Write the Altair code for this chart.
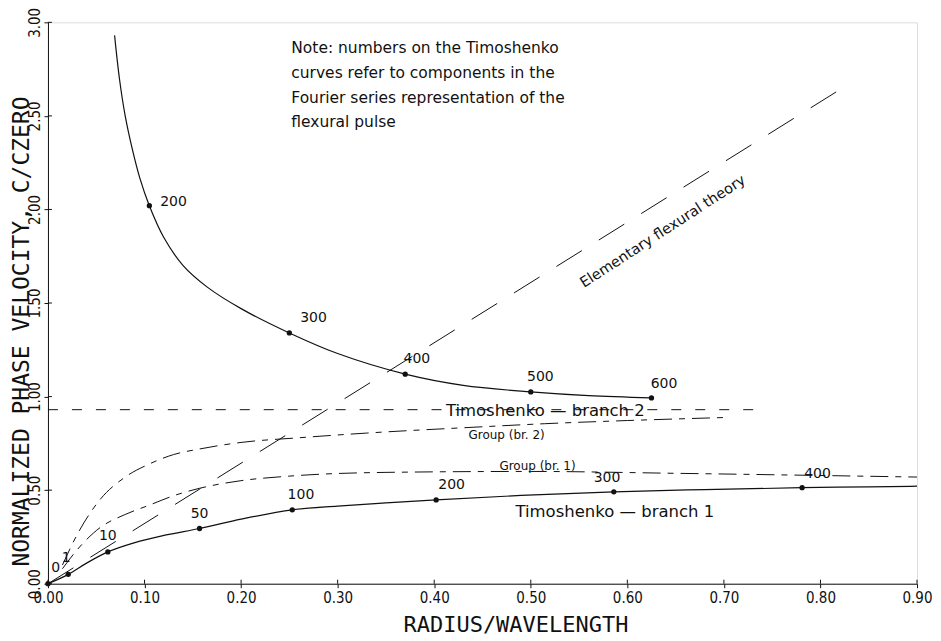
import altair as alt
import pandas as pd

# ---------------- data ----------------
x_ticks = [0.0, 0.1, 0.2, 0.3, 0.4, 0.5, 0.6, 0.7, 0.8, 0.9]
y_ticks = [0.0, 0.5, 1.0, 1.5, 2.0, 2.5, 3.0]

# Timoshenko branch 2 (solid)
b2_x = [0.069, 0.074, 0.080, 0.087, 0.095, 0.105, 0.120, 0.140, 0.165, 0.200,
        0.250, 0.300, 0.370, 0.430, 0.500, 0.560, 0.625]
b2_y = [2.93, 2.70, 2.50, 2.33, 2.17, 2.02, 1.85, 1.70, 1.585, 1.47,
        1.34, 1.23, 1.12, 1.06, 1.025, 1.005, 0.993]

# Timoshenko branch 1 (solid)
b1_x = [0.0, 0.021, 0.040, 0.062, 0.090, 0.120, 0.157, 0.200, 0.253, 0.300,
        0.350, 0.402, 0.490, 0.586, 0.680, 0.781, 0.850, 0.900]
b1_y = [0.0, 0.050, 0.110, 0.170, 0.220, 0.258, 0.295, 0.345, 0.395, 0.415,
        0.432, 0.448, 0.472, 0.491, 0.503, 0.513, 0.518, 0.521]

# Group velocity, branch 2 (dash-dot)
g2_x = [0.015, 0.030, 0.054, 0.080, 0.105, 0.130, 0.157, 0.200, 0.260, 0.330,
        0.436, 0.514, 0.600, 0.700]
g2_y = [0.10, 0.26, 0.45, 0.57, 0.64, 0.69, 0.72, 0.755, 0.78, 0.805,
        0.835, 0.855, 0.872, 0.888]

# Group velocity, branch 1 (dash-dot)
g1_x = [0.015, 0.030, 0.054, 0.080, 0.105, 0.130, 0.157, 0.199, 0.250, 0.350,
        0.500, 0.650, 0.900]
g1_y = [0.08, 0.18, 0.30, 0.37, 0.42, 0.47, 0.51, 0.55, 0.575, 0.595,
        0.60, 0.59, 0.57]

# Elementary flexural theory (long dashes)
el_x = [0.0, 0.82]
el_y = [0.0, 2.64]

# Asymptote line (short dashes)
as_x = [0.0, 0.736]
as_y = [0.93, 0.93]

# Fourier components marked on the Timoshenko curves
dot_x = [0.105, 0.250, 0.370, 0.500, 0.625,
         0.0, 0.021, 0.062, 0.157, 0.253, 0.402, 0.586, 0.781]
dot_y = [2.02, 1.34, 1.12, 1.025, 0.993,
         0.0, 0.050, 0.170, 0.295, 0.395, 0.448, 0.491, 0.513]
dot_lab = ["200", "300", "400", "500", "600",
           "0", "1", "10", "50", "100", "200", "300", "400"]
lab_x = [0.130, 0.275, 0.382, 0.510, 0.638,
         0.008, 0.019, 0.062, 0.157, 0.262, 0.418, 0.579, 0.797]
lab_y = [2.04, 1.42, 1.20, 1.105, 1.065,
         0.085, 0.135, 0.255, 0.375, 0.475, 0.53, 0.565, 0.585]

curve_text = ["Timoshenko \u2014 branch 2", "Group (br. 2)", "Group (br. 1)",
              "Timoshenko \u2014 branch 1"]
curve_text_x = [0.515, 0.475, 0.507, 0.587]
curve_text_y = [0.925, 0.795, 0.63, 0.385]
curve_text_size = [16.5, 12, 12, 16.5]

note_lines = ["Note: numbers on the Timoshenko",
              "curves refer to components in the",
              "Fourier series representation of the",
              "flexural pulse"]
note_x = [0.252, 0.252, 0.252, 0.252]
note_y = [2.865, 2.727, 2.593, 2.465]

elem_text = ["Elementary flexural theory"]
elem_x = [0.637]
elem_y = [1.88]

W, H = 870, 562
INK = "#111111"
MONO = "DejaVu Sans Mono"
NARROW = "DejaVu Sans Condensed, Liberation Sans Narrow, DejaVu Sans Mono"
SANS = "DejaVu Sans"

X = alt.X("x:Q",
          scale=alt.Scale(domain=[0, 0.9], nice=False, zero=False),
          axis=alt.Axis(values=x_ticks, format=".2f", grid=False,
                        domainColor=INK, tickColor=INK, labelColor=INK,
                        tickSize=4, labelPadding=3, labelFont=NARROW,
                        labelFontSize=15, labelOverlap=False, labelFlush=False,
                        title="RADIUS/WAVELENGTH", titleFont=MONO,
                        titleFontSize=22, titleFontWeight="normal",
                        titleColor=INK, titleX=468, titleY=41,
                        titleAlign="center", titleBaseline="middle"))
Y = alt.Y("y:Q",
          scale=alt.Scale(domain=[0, 3], nice=False, zero=False),
          axis=alt.Axis(values=y_ticks, format=".2f", grid=False,
                        domainColor=INK, tickColor=INK, labelColor=INK,
                        tickSize=4, labelPadding=1, labelFont=NARROW,
                        labelFontSize=15, labelAngle=270, labelAlign="center",
                        labelBaseline="bottom", labelOverlap=False,
                        labelFlush=False,
                        title="NORMALIZED PHASE VELOCITY, C/CZERO",
                        titleFont=MONO, titleFontSize=23,
                        titleFontWeight="normal", titleColor=INK,
                        titleAngle=270, titleX=-26, titleY=309,
                        titleAlign="center", titleBaseline="middle"))


def df(xs, ys, **extra):
    d = pd.DataFrame({"x": xs, "y": ys})
    d["i"] = range(len(d))
    for k, v in extra.items():
        d[k] = v
    return d


def line(xs, ys, dash=None, width=1.2, interp="monotone"):
    kw = dict(color=INK, strokeWidth=width, interpolate=interp, clip=True)
    if dash:
        kw["strokeDash"] = dash
    return alt.Chart(df(xs, ys)).mark_line(**kw).encode(x=X, y=Y, order="i:O")


b2 = line(b2_x, b2_y, interp="catmull-rom")
b1 = line(b1_x, b1_y)
g2 = line(g2_x, g2_y, dash=[18, 7, 6, 7], width=1.0)
g1 = line(g1_x, g1_y, dash=[18, 7, 6, 7], width=1.0)
el = alt.Chart(df(el_x, el_y)).mark_line(color=INK, strokeWidth=1.0,
                                         strokeDash=[30, 20]).encode(x=X, y=Y, order="i:O")
asy = alt.Chart(df(as_x, as_y)).mark_line(color=INK, strokeWidth=1.0,
                                          strokeDash=[10, 14]).encode(x=X, y=Y, order="i:O")

dots = alt.Chart(df(dot_x, dot_y)).mark_circle(color=INK, opacity=1, size=28).encode(x=X, y=Y)

labs = alt.Chart(df(lab_x, lab_y, t=dot_lab)).mark_text(
    font=SANS, fontSize=14, color=INK, align="center", baseline="middle"
).encode(x=X, y=Y, text="t:N")

ctext = alt.Chart(df(curve_text_x, curve_text_y, t=curve_text, s=curve_text_size)).mark_text(
    font=SANS, color=INK, align="center", baseline="middle"
).encode(x=X, y=Y, text="t:N", size=alt.Size("s:Q", scale=None, legend=None))

note = alt.Chart(df(note_x, note_y, t=note_lines)).mark_text(
    font=SANS, fontSize=15.5, color=INK, align="left", baseline="middle"
).encode(x=X, y=Y, text="t:N")

etext = alt.Chart(df(elem_x, elem_y, t=elem_text)).mark_text(
    font=SANS, fontSize=14.5, color=INK, align="center", baseline="middle", angle=327
).encode(x=X, y=Y, text="t:N")

# inner halves of the tick crosses
xin = alt.Chart(pd.DataFrame({"x": x_ticks})).mark_rule(color=INK, strokeWidth=1).encode(
    x=X, y=alt.value(H - 4), y2=alt.value(H))
yin = alt.Chart(pd.DataFrame({"y": y_ticks})).mark_rule(color=INK, strokeWidth=1).encode(
    y=Y, x=alt.value(0), x2=alt.value(4))

chart = alt.layer(asy, el, g2, g1, b2, b1, dots, labs, ctext, note, etext, xin, yin).properties(
    width=W, height=H,
    autosize=alt.AutoSizeParams(type="none"),
    padding={"left": 40, "top": 14, "right": 16, "bottom": 56},
).configure_view(stroke=None).configure(background="white")

chart.save("out.html", embed_options={"renderer": "svg", "actions": False})
